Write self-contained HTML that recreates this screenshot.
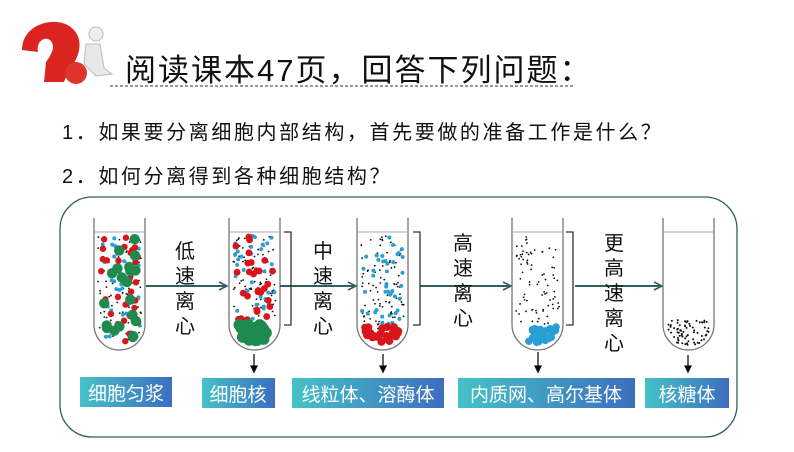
<!DOCTYPE html><html><head><meta charset="utf-8"><style>
body{margin:0;width:794px;height:447px;background:#fff;overflow:hidden;font-family:"Liberation Sans","Noto Sans CJK SC",sans-serif}
svg text{font-family:"Liberation Sans","Noto Sans CJK SC",sans-serif}
</style></head><body>
<svg id="s" width="794" height="447" viewBox="0 0 794 447" xmlns="http://www.w3.org/2000/svg">
<defs>
<linearGradient id="g" x1="0" x2="1"><stop offset="0" stop-color="#45c2c6"/><stop offset="1" stop-color="#3d6ec0"/></linearGradient>
<marker id="a" markerWidth="10" markerHeight="10" refX="9" refY="5" orient="auto" markerUnits="userSpaceOnUse"><path d="M1,1 L9,5 L1,9" fill="none" stroke="#2f5f62" stroke-width="1.6"/></marker>
</defs>
<!-- logo -->
<path d="M22,50 C22,22 60,14 74,30 C86,44 76,62 68,72 L64,82 L44,82 L46,62 C52,54 56,46 50,40 C44,36 36,42 38,52z" fill="#d9241f"/>
<circle cx="76" cy="73" r="11" fill="#e0332b"/>
<circle cx="96" cy="34" r="7" fill="#eee" stroke="#bbb"/>
<path d="M86,44 L100,44 L104,68 L112,74 L96,76 L84,64z" fill="#e8e8e8" stroke="#bbb"/>
<text x="125" y="81" font-size="31" letter-spacing="2" fill="#111">阅读课本47页，回答下列问题：</text>
<line x1="110" y1="86" x2="575" y2="86" stroke="#333" stroke-dasharray="3,2"/>
<text x="62" y="139" font-size="20" letter-spacing="2.6" fill="#111">1．如果要分离细胞内部结构，首先要做的准备工作是什么？</text>
<text x="62" y="183" font-size="20" letter-spacing="2.6" fill="#111">2．如何分离得到各种细胞结构？</text>
<rect x="60" y="197" width="677" height="240" rx="32" fill="none" stroke="#2f5f62" stroke-width="1.3"/>
<g id="tubes"></g>
<g stroke="#2f5f62" stroke-width="2" marker-end="url(#a)">
<line x1="146" y1="286" x2="227" y2="286"/><line x1="280" y1="286" x2="356" y2="286"/>
<line x1="420" y1="286" x2="511" y2="286"/><line x1="575" y1="286" x2="662" y2="286"/></g>
<g stroke="#333" stroke-width="1.3" fill="none">
<path d="M284,232 H291 V325 H284"/><path d="M413,232 H420 V325 H413"/><path d="M566,232 H573 V325 H566"/></g>
<g font-size="20" fill="#111" text-anchor="middle">
<text x="185" y="258">低</text><text x="185" y="283">速</text><text x="185" y="308">离</text><text x="185" y="333">心</text>
<text x="323" y="258">中</text><text x="323" y="283">速</text><text x="323" y="308">离</text><text x="323" y="333">心</text>
<text x="463" y="250">高</text><text x="463" y="275">速</text><text x="463" y="300">离</text><text x="463" y="325">心</text>
<text x="614" y="250">更</text><text x="614" y="275">高</text><text x="614" y="300">速</text><text x="614" y="325">离</text><text x="614" y="350">心</text>
</g>
<g stroke="#111" stroke-width="1.3">
<line x1="254" y1="354" x2="254" y2="368"/><path d="M251,366 L254,372 L257,366z"/>
<line x1="383" y1="354" x2="383" y2="368"/><path d="M380,366 L383,372 L386,366z"/>
<line x1="538" y1="352" x2="538" y2="368"/><path d="M535,366 L538,372 L541,366z"/>
<line x1="688" y1="355" x2="688" y2="368"/><path d="M685,366 L688,372 L691,366z"/>
</g>
<g fill="url(#g)">
<rect x="80" y="377" width="92" height="30"/><rect x="202" y="378" width="73" height="30"/>
<rect x="292" y="378" width="152" height="30"/><rect x="458" y="378" width="177" height="30"/>
<rect x="645" y="378" width="84" height="30"/></g>
<g font-size="19" fill="#fff" text-anchor="middle">
<text x="126" y="400">细胞匀浆</text><text x="238" y="401">细胞核</text><text x="368" y="401">线粒体、溶酶体</text>
<text x="546" y="401">内质网、高尔基体</text><text x="687" y="401">核糖体</text></g>
</svg>
<script>
(function(){
var seed=7;function r(){seed=(seed*16807)%2147483647;return seed/2147483647;}
var ns="http://www.w3.org/2000/svg",T=document.getElementById("tubes");
function el(n,a){var e=document.createElementNS(ns,n);for(var k in a)e.setAttribute(k,a[k]);T.appendChild(e);return e;}
var xs=[94,229,357,512,663],w=51,tTop=218,bot=350;
function inside(x,y,L){var cx=L+w/2,rr=w/2-3;if(x<L+3||x>L+w-3)return false;if(y>bot-w/2){var dy=y-(bot-w/2);return (x-cx)*(x-cx)+dy*dy<rr*rr;}return true;}
function pt(L,y0,y1,rad){for(var i=0;i<300;i++){var x=L+r()*w,y=y0+r()*(y1-y0);if(inside(x,y,L)&&inside(x-rad,y,L)&&inside(x+rad,y,L)&&inside(x,y+rad,L))return[x,y];}return[L+w/2,y0];}
function dots(L,n,y0,y1,rad,col){for(var i=0;i<n;i++){var p=pt(L,y0,y1,rad);el("circle",{cx:p[0],cy:p[1],r:rad,fill:col});}}
xs.forEach(function(L,i){
 el("line",{x1:L+1,y1:232,x2:L+w-1,y2:232,stroke:"#aaa"});
});
dots(94,90,236,348,0.9,"#111");dots(94,35,236,345,2,"#2a9fd6");dots(94,30,236,345,3.2,"#d9141b");dots(94,22,238,340,5.2,"#1e8a4e");
dots(229,80,236,320,0.9,"#111");dots(229,30,236,320,2,"#2a9fd6");dots(229,28,236,322,3.4,"#d9141b");dots(229,24,324,350,5.8,"#1e8a4e");
dots(357,90,236,330,0.9,"#111");dots(357,45,236,330,2,"#2a9fd6");dots(357,28,327,350,4,"#d9141b");
dots(512,80,236,325,0.9,"#111");dots(512,24,327,350,3.8,"#2a9fd6");
dots(663,70,320,350,1,"#111");
xs.forEach(function(L){el("path",{d:"M"+L+","+tTop+" V"+(bot-w/2)+" A"+(w/2)+","+(w/2)+" 0 0 0 "+(L+w)+","+(bot-w/2)+" V"+tTop,fill:"none",stroke:"#777","stroke-width":1.3});});
})();
</script>
</body></html>
